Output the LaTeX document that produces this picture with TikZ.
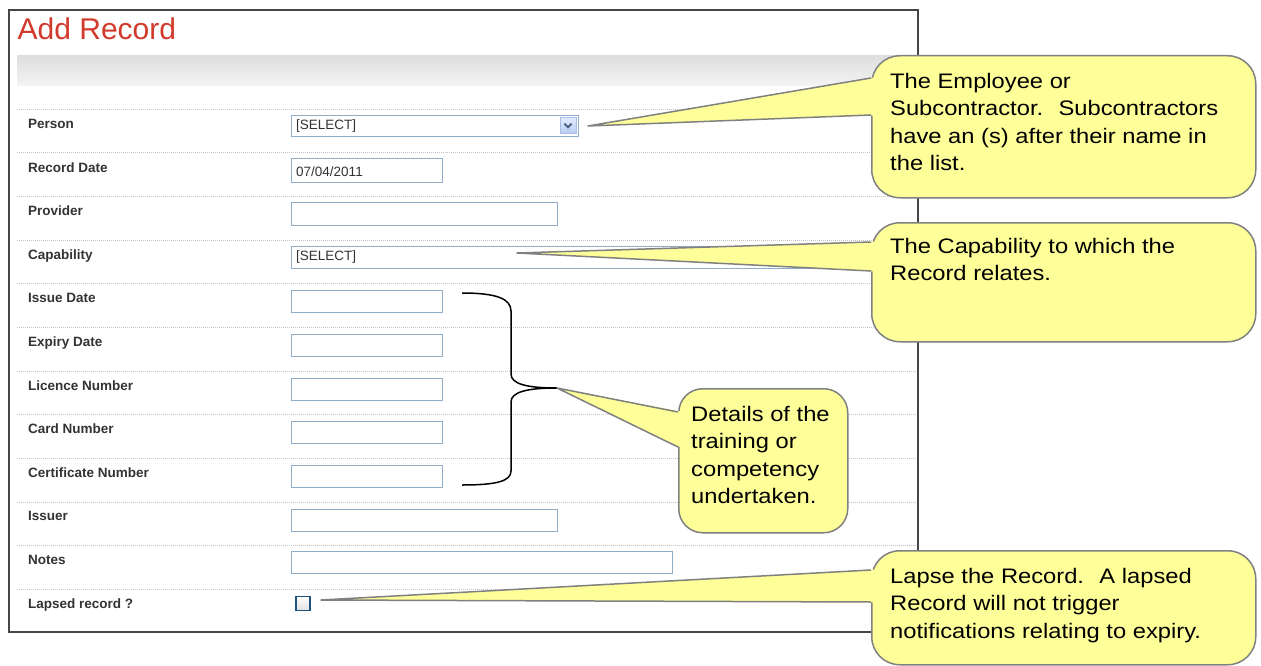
\documentclass[tikz,border=0pt]{standalone}
\usepackage{fontspec}
\setmainfont{Liberation Sans}
\newfontfamily\calloutfont[FakeStretch=1.13]{Liberation Sans}
\usetikzlibrary{calc}
\definecolor{framegray}{RGB}{70,70,70}
\definecolor{titlered}{RGB}{210,58,44}
\definecolor{labelgray}{RGB}{51,51,51}
\definecolor{fieldborder}{RGB}{143,172,200}
\definecolor{sepgray}{RGB}{195,195,195}
\definecolor{calloutfill}{RGB}{255,255,153}
\definecolor{calloutborder}{RGB}{128,128,128}
\definecolor{bandtop}{RGB}{222,222,222}
\definecolor{bandbottom}{RGB}{244,244,244}
\definecolor{btntop}{RGB}{226,236,252}
\definecolor{btnbottom}{RGB}{182,202,242}
\definecolor{btnborder}{RGB}{168,190,228}
\definecolor{chevcol}{RGB}{77,97,133}
\definecolor{chkborder}{RGB}{30,82,128}
\tikzset{
  lbl/.style={anchor=base west, inner sep=0pt, text=labelgray,
    font=\fontsize{13.5}{16}\selectfont\bfseries},
  field/.style={draw=fieldborder, line width=1pt, fill=white, inner sep=0pt,
    anchor=north west},
  ftext/.style={anchor=west, inner sep=0pt, text=labelgray,
    font=\fontsize{13.5}{16}\selectfont},
  sepline/.style={draw=sepgray, line width=0.8pt, dash pattern=on 1pt off 1pt},
  calloutbox/.style={draw=calloutborder, fill=calloutfill, line width=1.5pt,
    rounded corners=28pt, inner sep=0pt, anchor=north west},
  pointer/.style={draw=calloutborder, line width=1.5pt, line join=round},
  ctext/.style={anchor=north west, inner sep=0pt, align=left, text=black,
    font=\calloutfont\fontsize{21}{27.3}\selectfont},
  bracestyle/.style={draw=black, line width=1.5pt}
}
\begin{document}
\begin{tikzpicture}[x=1pt,y=-1pt]
\useasboundingbox (0,0) rectangle (1261,666);
\fill[white] (0,0) rectangle (1261,666);
% frame
\draw[framegray, line width=1.8pt, fill=white] (9,10) rectangle (918,632);
\node[anchor=base west, inner sep=0pt, text=titlered,
  font=\fontsize{30}{34}\selectfont] (title) at (17.5,40) {Add Record};
\shade[top color=bandtop, bottom color=bandbottom] (17,56) rectangle (917,86);
% separators
\foreach \yy in {109,152.5,196,240,283.5,327,371,414.5,458,502,545.5,589}
  \draw[sepline] (17,\yy) -- (917,\yy);
% labels
\node[lbl] (lPerson) at (28,128.5) {Person};
\node[lbl] (lDate) at (28,172) {Record Date};
\node[lbl] (lProvider) at (28,215.5) {Provider};
\node[lbl] (lCap) at (28,259) {Capability};
\node[lbl] (lIssue) at (28,302.5) {Issue Date};
\node[lbl] (lExpiry) at (28,346) {Expiry Date};
\node[lbl] (lLicence) at (28,390) {Licence Number};
\node[lbl] (lCard) at (28,433.5) {Card Number};
\node[lbl] (lCert) at (28,477) {Certificate Number};
\node[lbl] (lIssuer) at (28,520.5) {Issuer};
\node[lbl] (lNotes) at (28,564) {Notes};
\node[lbl] (lLapsed) at (28,608) {Lapsed record ?};
% fields
\node[field, minimum width=287pt, minimum height=21pt] (fPerson) at (291,115) {};
\node[ftext] (tPerson) at ($(fPerson.west)+(5,0.5)$) {[SELECT]};
\node[draw=btnborder, line width=0.8pt, top color=btntop, bottom color=btnbottom,
  minimum width=16pt, minimum height=16pt, inner sep=0pt] (btn) at (568,125.5) {};
\draw[chevcol, line width=2pt] ($(btn.center)+(-3.5,-1.8)$) -- ($(btn.center)+(0,1.8)$) -- ($(btn.center)+(3.5,-1.8)$);
\node[field, minimum width=151pt, minimum height=23.5pt] (fDate) at (291,158.5) {};
\node[ftext] (tDate) at ($(fDate.west)+(5,0.5)$) {07/04/2011};
\node[field, minimum width=266pt, minimum height=23pt] (fProvider) at (291,202) {};
\node[field, minimum width=614pt, minimum height=22pt] (fCap) at (291,245.5) {};
\node[ftext] (tCap) at ($(fCap.west)+(5,0.5)$) {[SELECT]};
\node[field, minimum width=151pt, minimum height=22pt] (fIssue) at (291,290) {};
\node[field, minimum width=151pt, minimum height=22pt] (fExpiry) at (291,334) {};
\node[field, minimum width=151pt, minimum height=22pt] (fLicence) at (291,377.5) {};
\node[field, minimum width=151pt, minimum height=22pt] (fCard) at (291,421) {};
\node[field, minimum width=151pt, minimum height=22pt] (fCert) at (291,465) {};
\node[field, minimum width=266pt, minimum height=22.5pt] (fIssuer) at (291,508.5) {};
\node[field, minimum width=381pt, minimum height=22pt] (fNotes) at (291,551) {};
\node[draw=chkborder, line width=1.2pt, top color=white, bottom color=black!12,
  minimum width=14pt, minimum height=14pt, inner sep=0pt] (chk) at (303,603.5) {};
% brace
\coordinate (btip) at (557,388);
\coordinate (btop) at (462,293);
\coordinate (bbot) at (462,485);
\draw[bracestyle] (btop) .. controls (497,293) and (511,299) .. (511,311)
  -- (511,374) .. controls (511,384) and (527,388) .. (btip)
  .. controls (527,388) and (511,392) .. (511,402)
  -- (511,471) .. controls (511,481) and (497,485) .. (bbot);
% callout 1
\node[calloutbox, minimum width=384pt, minimum height=142pt] (c1) at (871,55) {};
\coordinate (c1tip) at (588,126);
\coordinate (c1a) at (871,78);
\coordinate (c1b) at (871,115);
\fill[calloutfill] (c1tip) -- ($(c1a)+(3,-0.5)$) -- ($(c1b)+(3,0.5)$) -- cycle;
\draw[pointer] (c1a) -- (c1tip) -- (c1b);
\node[ctext] (t1) at (890,73) {The Employee or\\Subcontractor.~ Subcontractors\\have an (s) after their name in\\the list.};
% callout 2
\node[calloutbox, minimum width=384pt, minimum height=119pt] (c2) at (871,222) {};
\coordinate (c2tip) at (517,253);
\coordinate (c2a) at (871,242);
\coordinate (c2b) at (871,271);
\fill[calloutfill] (c2tip) -- ($(c2a)+(3,-0.5)$) -- ($(c2b)+(3,0.5)$) -- cycle;
\draw[pointer] (c2a) -- (c2tip) -- (c2b);
\node[ctext] (t2) at (890,238) {The Capability to which the\\Record relates.};
% callout 3
\node[calloutbox, rounded corners=24pt, minimum width=169pt, minimum height=144pt] (c3) at (678,388) {};
\coordinate (c3a) at (678,412);
\coordinate (c3b) at (678,447);
\fill[calloutfill] (btip) -- ($(c3a)+(3,-0.5)$) -- ($(c3b)+(3,0.5)$) -- cycle;
\draw[pointer] (c3a) -- (btip) -- (c3b);
\node[ctext] (t3) at (691,406) {Details of the\\training or\\competency\\undertaken.};
% callout 4
\node[calloutbox, minimum width=384pt, minimum height=114pt] (c4) at (871,550) {};
\coordinate (c4tip) at (321,600);
\coordinate (c4a) at (871,570);
\coordinate (c4b) at (871,602);
\fill[calloutfill] (c4tip) -- ($(c4a)+(3,-0.5)$) -- ($(c4b)+(3,0.5)$) -- cycle;
\draw[pointer] (c4a) -- (c4tip) -- (c4b);
\node[ctext] (t4) at (890,568) {Lapse the Record.~ A lapsed\\Record will not trigger\\notifications relating to expiry.};
\end{tikzpicture}
\end{document}
